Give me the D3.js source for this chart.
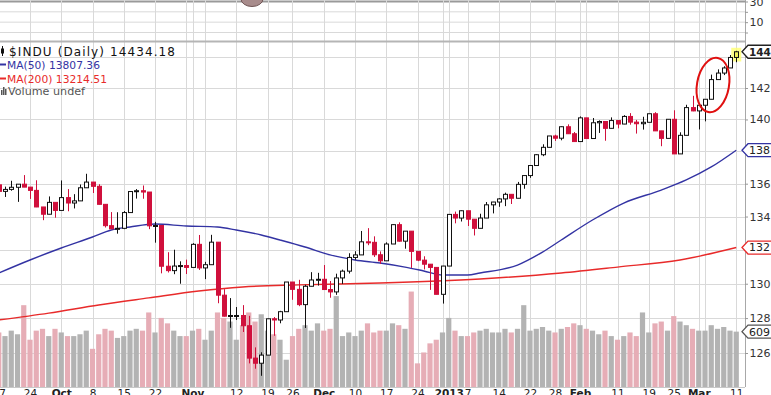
<!DOCTYPE html>
<html><head><meta charset="utf-8">
<script src="https://cdn.jsdelivr.net/npm/d3@7/dist/d3.min.js"></script>
<style>html,body{margin:0;padding:0;background:#fff;overflow:hidden}svg{display:block}</style>
</head><body><svg id="c" width="771" height="395"></svg>
<script>
const dates = ['2012-09-17','2012-09-18','2012-09-19','2012-09-20','2012-09-21','2012-09-24','2012-09-25','2012-09-26','2012-09-27','2012-09-28',
'2012-10-01','2012-10-02','2012-10-03','2012-10-04','2012-10-05','2012-10-08','2012-10-09','2012-10-10','2012-10-11','2012-10-12','2012-10-15','2012-10-16','2012-10-17','2012-10-18','2012-10-19','2012-10-22','2012-10-23','2012-10-24','2012-10-25','2012-10-26','2012-10-31',
'2012-11-01','2012-11-02','2012-11-05','2012-11-06','2012-11-07','2012-11-08','2012-11-09','2012-11-12','2012-11-13','2012-11-14','2012-11-15','2012-11-16','2012-11-19','2012-11-20','2012-11-21','2012-11-23','2012-11-26','2012-11-27','2012-11-28','2012-11-29','2012-11-30',
'2012-12-03','2012-12-04','2012-12-05','2012-12-06','2012-12-07','2012-12-10','2012-12-11','2012-12-12','2012-12-13','2012-12-14','2012-12-17','2012-12-18','2012-12-19','2012-12-20','2012-12-21','2012-12-24','2012-12-26','2012-12-27','2012-12-28','2012-12-31',
'2013-01-02','2013-01-03','2013-01-04','2013-01-07','2013-01-08','2013-01-09','2013-01-10','2013-01-11','2013-01-14','2013-01-15','2013-01-16','2013-01-17','2013-01-18','2013-01-22','2013-01-23','2013-01-24','2013-01-25','2013-01-28','2013-01-29','2013-01-30','2013-01-31',
'2013-02-01','2013-02-04','2013-02-05','2013-02-06','2013-02-07','2013-02-08','2013-02-11','2013-02-12','2013-02-13','2013-02-14','2013-02-15','2013-02-19','2013-02-20','2013-02-21','2013-02-22','2013-02-25','2013-02-26','2013-02-27','2013-02-28',
'2013-03-01','2013-03-04','2013-03-05','2013-03-06','2013-03-07','2013-03-08','2013-03-11'];

const closes = [13553,13565,13578,13597,13579,13559,13458,13414,13486,13437,
13515,13482,13495,13575,13610,13584,13474,13345,13326,13329,13424,13552,13557,13549,13344,13346,13103,13077,13104,13107,13096,
13233,13093,13112,13246,12933,12811,12815,12815,12756,12571,12542,12588,12796,12789,12837,13010,12967,12878,12985,13022,13026,
12966,12952,13034,13074,13155,13170,13248,13245,13171,13135,13235,13351,13252,13312,13191,13139,13115,13096,12938,13104,
13413,13391,13435,13384,13329,13391,13471,13488,13507,13535,13511,13596,13650,13712,13779,13825,13896,13882,13954,13910,13861,
14010,13880,13979,13987,13944,13993,13971,14019,13983,13973,13982,14036,13928,13881,14001,13784,13900,14075,14054,
14090,14128,14254,14296,14329,14397,14434];

const opens = [13593,13553,13565,13578,13597,13579,13559,13458,13414,13486,
13437,13515,13482,13495,13575,13610,13584,13474,13345,13326,13329,13424,13552,13557,13549,13344,13346,13103,13077,13104,13107,
13096,13233,13093,13112,13246,12933,12811,12815,12815,12756,12571,12542,12588,12796,12789,12837,13010,12967,12878,12985,13022,
13026,12966,12952,13034,13074,13155,13170,13248,13245,13171,13135,13235,13351,13252,13312,13191,13139,13115,13096,12938,
13104,13413,13391,13435,13384,13329,13391,13471,13488,13507,13535,13511,13596,13650,13712,13779,13825,13896,13882,13954,13910,
13861,14010,13880,13979,13987,13944,13993,13971,14019,13983,13973,13982,14036,13928,13881,14001,13784,13900,14075,
14054,14090,14128,14254,14296,14329,14397];

const highs = [13593,13582,13618,13598,13653,13580,13621,13458,13522,13486,
13620,13567,13536,13595,13661,13610,13597,13476,13427,13426,13433,13552,13567,13589,13549,13368,13346,13186,13201,13132,13142,
13240,13289,13129,13290,13245,12968,12916,12864,12875,12813,12632,12604,12797,12806,12842,13010,13010,13023,12994,13068,13064,
13110,13016,13059,13083,13180,13192,13313,13330,13281,13191,13245,13353,13365,13312,13311,13191,13162,13115,13096,13105,
13413,13430,13437,13435,13384,13417,13488,13489,13512,13545,13535,13611,13650,13713,13783,13844,13896,13904,13956,13969,13921,
14019,14010,14009,13994,13987,14013,13994,14027,14040,13997,14017,14036,14046,13928,14001,14058,13919,14093,14150,
14090,14128,14286,14320,14340,14413,14440];

const lows = [13527,13519,13557,13489,13579,13507,13457,13378,13414,13393,
13437,13432,13449,13494,13575,13543,13473,13334,13326,13297,13324,13424,13509,13508,13324,13243,13061,13066,13056,13000,13057,
13096,13081,13027,13112,12886,12809,12744,12789,12720,12541,12511,12471,12588,12698,12770,12837,12906,12869,12743,12985,12989,
12965,12918,12935,12999,13060,13141,13170,13228,13158,13117,13135,13235,13249,13207,13093,13133,13084,12964,12938,12884,
13104,13359,13370,13343,13286,13329,13391,13419,13459,13463,13476,13511,13569,13636,13712,13770,13825,13865,13869,13909,13860,
13861,13879,13880,13915,13866,13944,13944,13970,13967,13911,13936,13982,13927,13832,13881,13784,13784,13900,14052,
13937,13988,14128,14254,14283,14329,14366];

const volumes = [600,560,620,580,900,520,620,640,560,640,
600,560,560,580,620,420,580,640,620,540,560,620,640,620,820,600,760,700,620,560,560,
620,640,520,620,820,760,720,520,680,820,720,800,620,580,520,300,560,640,680,620,700,
620,640,1000,560,600,560,620,700,600,620,620,700,680,640,1050,260,380,480,520,600,
760,620,560,560,600,620,640,600,600,640,600,640,900,620,640,660,620,600,640,660,700,
680,640,620,580,620,560,520,560,600,560,820,600,700,720,620,780,720,680,640,
620,620,680,640,660,620,609];

const ma50Dates = ['2012-09-17','2012-09-24','2012-10-01','2012-10-08','2012-10-11','2012-10-16','2012-10-22','2012-10-31','2012-11-07','2012-11-12','2012-11-16','2012-11-21','2012-11-28','2012-12-04','2012-12-10','2012-12-14','2012-12-20','2012-12-26','2012-12-31','2013-01-07','2013-01-09','2013-01-17','2013-01-24','2013-01-29','2013-02-05','2013-02-12','2013-02-21','2013-02-27','2013-03-05','2013-03-11'];
const ma50Values = [13063,13140,13211,13277,13319,13337,13355,13343,13337,13319,13289,13259,13217,13170,13140,13122,13098,13075,13051,13051,13063,13110,13187,13259,13379,13482,13561,13623,13703,13807];

const ma200Dates = ['2012-09-17','2012-09-27','2012-10-09','2012-10-19','2012-11-02','2012-11-13','2012-11-27','2012-12-14','2013-01-09','2013-01-29','2013-02-11','2013-02-26','2013-03-11'];
const ma200Values = [12789,12829,12876,12917,12957,12981,12993,13004,13028,13063,13098,13140,13214];

const priceTicks = [12600,12800,13000,13200,13400,13600,13800,14000,14200,14400];
const hiddenTicks = [13200,13800,14400];
const weekStarts = ['2012-09-17','2012-09-24','2012-10-01','2012-10-08','2012-10-15','2012-10-22','2012-10-31','2012-11-05','2012-11-12','2012-11-19','2012-11-26','2012-12-03','2012-12-10','2012-12-17','2012-12-24','2012-12-31','2013-01-07','2013-01-14','2013-01-22','2013-01-28','2013-02-04','2013-02-11','2013-02-19','2013-02-25','2013-03-04','2013-03-11'];
const monthStarts = ['2012-10-01','2012-11-01','2012-12-03','2013-01-02','2013-02-01','2013-03-01'];
const labelDates = ['2012-09-17','2012-09-24','2012-10-01','2012-10-08','2012-10-15','2012-10-22','2012-11-01','2012-11-12','2012-11-19','2012-11-26','2012-12-03','2012-12-10','2012-12-17','2012-12-24','2013-01-02','2013-01-07','2013-01-14','2013-01-22','2013-01-28','2013-02-01','2013-02-11','2013-02-19','2013-02-25','2013-03-01','2013-03-11'];
const labelTexts = ['17','24','Oct','8','15','22','Nov','12','19','26','Dec','10','17','24','2013','7','14','22','28','Feb','11','19','25','Mar','11'];
const boldLabels = ['Oct','Nov','Dec','2013','Feb','Mar'];

const legendTitle = '$INDU (Daily) 14434.18';
const legendMA50 = 'MA(50) 13807.36';
const legendMA200 = 'MA(200) 13214.51';
const legendVol = 'Volume undef';
const lastPriceLabel = '144', ma50Label = '138', ma200Label = '132', volLabel = '609';
const upperTicks = [30, 20, 10, 0];
const upperTickLabels = ['30','','10',''];

const svg = d3.select('#c');
const W = 771, H = 395, plotR = 745, mainTop = 42, mainBot = 387;
const RED = '#d0103c', NAVY = '#3333a3', MARED = '#e82a2a', GRID = '#d9d9d9';
const idx = d => dates.indexOf(d);
const x = d3.scaleLinear().domain([0, dates.length - 1]).range([-1.25, 736.25]);
const y = d3.scaleLog().domain([12600, 14200]).range([353, 88]);
const yv = d3.scaleLinear().domain([0, 1100]).range([mainBot, 287]);
const yu = d3.scaleLinear().domain([0, 30]).range([32.5, 1.5]);

svg.append('rect').attr('width', W).attr('height', H).attr('fill', '#fff');
svg.append('defs').append('clipPath').attr('id', 'clip').append('rect')
  .attr('x', 0).attr('y', mainTop).attr('width', plotR).attr('height', mainBot - mainTop);

const g0 = svg.append('g');
g0.selectAll('line.u').data(upperTicks).join('line')
  .attr('x1', 0).attr('x2', plotR).attr('y1', d => yu(d)).attr('y2', d => yu(d))
  .attr('stroke', (d, i) => i === 0 ? '#9a9a9a' : GRID).attr('stroke-width', (d, i) => i === 0 ? 2 : 1);
const vIdx = Array.from(new Set(weekStarts.concat(monthStarts))).map(idx);
g0.selectAll('line.v').data(vIdx).join('line')
  .attr('x1', d => Math.round(x(d)) + 0.5).attr('x2', d => Math.round(x(d)) + 0.5)
  .attr('y1', 0).attr('y2', mainBot).attr('stroke', GRID).attr('stroke-width', 1);
g0.selectAll('line.h').data(priceTicks).join('line')
  .attr('x1', 0).attr('x2', plotR).attr('y1', d => Math.round(y(d)) + 0.5).attr('y2', d => Math.round(y(d)) + 0.5)
  .attr('stroke', GRID);
svg.append('line').attr('x1', 0).attr('x2', plotR).attr('y1', 41.5).attr('y2', 41.5).attr('stroke', '#b5b5b5').attr('stroke-width', 2);
svg.append('ellipse').attr('cx', 252).attr('cy', -1).attr('rx', 11).attr('ry', 7.5).attr('fill', '#a88c8c').attr('stroke', '#705454');

const plot = svg.append('g').attr('clip-path', 'url(#clip)');
plot.selectAll('rect.vol').data(volumes).join('rect')
  .attr('x', (d, i) => x(i) - 2.6).attr('width', 5.2)
  .attr('y', d => yv(d)).attr('height', d => mainBot - yv(d))
  .attr('fill', (d, i) => closes[i] >= opens[i] ? '#b3b3b3' : '#e6adb6');

const line = d3.line().x(d => x(d[0])).y(d => y(d[1])).curve(d3.curveMonotoneX);
plot.append('path').datum(ma200Dates.map((d, i) => [idx(d), ma200Values[i]]))
  .attr('d', line).attr('fill', 'none').attr('stroke', MARED).attr('stroke-width', 1.4);
plot.append('path').datum(ma50Dates.map((d, i) => [idx(d), ma50Values[i]]))
  .attr('d', line).attr('fill', 'none').attr('stroke', NAVY).attr('stroke-width', 1.4);

const last = dates.length - 1;
const cg = plot.append('g');
const up = i => closes[i] >= opens[i];
cg.append('rect').attr('x', x(last) - 5).attr('y', y(closes[last]) - 4).attr('width', 10).attr('height', y(opens[last]) - y(closes[last]) + 8)
  .attr('fill', '#ffff70').attr('opacity', 0.8);
cg.selectAll('line.w').data(closes).join('line')
  .attr('x1', (d, i) => Math.round(x(i)) + 0.5).attr('x2', (d, i) => Math.round(x(i)) + 0.5)
  .attr('y1', (d, i) => y(highs[i])).attr('y2', (d, i) => y(lows[i]))
  .attr('stroke', (d, i) => up(i) ? '#111' : RED).attr('stroke-width', 1);
cg.selectAll('rect.b').data(closes).join('rect')
  .attr('x', (d, i) => Math.round(x(i)) - 1.5).attr('width', 4)
  .attr('y', (d, i) => y(Math.max(opens[i], closes[i])))
  .attr('height', (d, i) => Math.max(1, Math.abs(y(opens[i]) - y(closes[i]))))
  .attr('fill', (d, i) => i === last ? '#f2f25a' : (up(i) ? '#fff' : RED))
  .attr('stroke', (d, i) => up(i) ? '#111' : RED).attr('stroke-width', 1);

svg.append('ellipse').attr('cx', 0).attr('cy', 0).attr('rx', 16).attr('ry', 27.5)
  .attr('transform', 'translate(713,85) rotate(10)')
  .attr('fill', 'none').attr('stroke', '#e01010').attr('stroke-width', 2);

svg.append('line').attr('x1', plotR + 0.5).attr('x2', plotR + 0.5).attr('y1', 0).attr('y2', mainBot).attr('stroke', '#a8a8a8');
svg.append('line').attr('x1', 0).attr('x2', plotR).attr('y1', mainBot + 0.5).attr('y2', mainBot + 0.5).attr('stroke', '#c8c8c8');

const ax = svg.append('g').attr('transform', `translate(${plotR},0)`)
  .call(d3.axisRight(y).tickValues(priceTicks).tickFormat(d => hiddenTicks.includes(d) ? '' : String(d / 100)).tickSize(3));
ax.select('.domain').remove();
ax.selectAll('line').attr('stroke', '#999');
ax.selectAll('text').attr('x', 4.5).attr('font-family', 'DejaVu Sans').attr('font-size', 11).attr('fill', '#333');
const ux = svg.append('g').attr('transform', `translate(${plotR},0)`)
  .call(d3.axisRight(yu).tickValues(upperTicks).tickFormat((d, i) => upperTickLabels[i]).tickSize(3));
ux.select('.domain').remove();
ux.selectAll('line').attr('stroke', '#999');
ux.selectAll('text').attr('x', 4.5).attr('font-family', 'DejaVu Sans').attr('font-size', 11).attr('fill', '#333');

function box(yy, txt, col, bold) {
  const g = svg.append('g');
  g.append('path').attr('d', `M742,${yy} L748,${yy - 6.5} L775,${yy - 6.5} L775,${yy + 6.5} L748,${yy + 6.5} Z`)
    .attr('fill', '#fff').attr('stroke', col).attr('stroke-width', 1.3);
  g.append('text').attr('x', 749).attr('y', yy).attr('dy', '0.36em').text(txt)
    .attr('font-family', 'DejaVu Sans').attr('font-size', bold ? 10.5 : 11).attr('font-weight', bold ? 'bold' : 'normal').attr('fill', '#222');
}
box(y(closes[last]), lastPriceLabel, '#222', true);
box(y(ma50Values[ma50Values.length - 1]), ma50Label, NAVY, false);
box(y(ma200Values[ma200Values.length - 1]), ma200Label, MARED, false);
box(yv(volumes[last]), volLabel, '#555', false);

const bx = svg.append('g').attr('transform', `translate(0,${mainBot})`)
  .call(d3.axisBottom(x).tickValues(labelDates.map(idx)).tickFormat((d, i) => labelTexts[i]).tickSize(0));
bx.select('.domain').remove();
bx.selectAll('text').attr('y', 9.5).attr('dy', 0).attr('font-family', 'DejaVu Sans').attr('font-size', 10.5)
  .attr('fill', '#222').attr('font-weight', function() { return boldLabels.includes(this.textContent) ? 'bold' : 'normal'; });

const lg = svg.append('g').attr('font-family', 'DejaVu Sans');
lg.append('line').attr('x1', 2.5).attr('x2', 2.5).attr('y1', 46).attr('y2', 56).attr('stroke', '#111');
lg.append('rect').attr('x', 1).attr('y', 48.5).attr('width', 3).attr('height', 5).attr('fill', '#111');
lg.append('text').attr('x', 9).attr('y', 55.5).text(legendTitle).attr('font-size', 12).attr('fill', '#111')
  .attr('textLength', 166).attr('lengthAdjust', 'spacing');
lg.append('line').attr('x1', 0).attr('x2', 6).attr('y1', 64.5).attr('y2', 64.5).attr('stroke', NAVY).attr('stroke-width', 2);
lg.append('text').attr('x', 7).attr('y', 68.5).text(legendMA50).attr('font-size', 11).attr('fill', NAVY)
  .attr('textLength', 93).attr('lengthAdjust', 'spacingAndGlyphs');
lg.append('line').attr('x1', 0).attr('x2', 6).attr('y1', 78.5).attr('y2', 78.5).attr('stroke', MARED).attr('stroke-width', 2);
lg.append('text').attr('x', 7).attr('y', 82.5).text(legendMA200).attr('font-size', 11).attr('fill', MARED)
  .attr('textLength', 100).attr('lengthAdjust', 'spacingAndGlyphs');
lg.selectAll('rect.vi').data([5, 8, 6]).join('rect').attr('x', (d, i) => 1 + i * 2).attr('y', d => 95 - d).attr('width', 1.5).attr('height', d => d).attr('fill', '#555');
lg.append('text').attr('x', 8).attr('y', 95).text(legendVol).attr('font-size', 11).attr('fill', '#555')
  .attr('textLength', 77).attr('lengthAdjust', 'spacingAndGlyphs');
</script></body></html>
